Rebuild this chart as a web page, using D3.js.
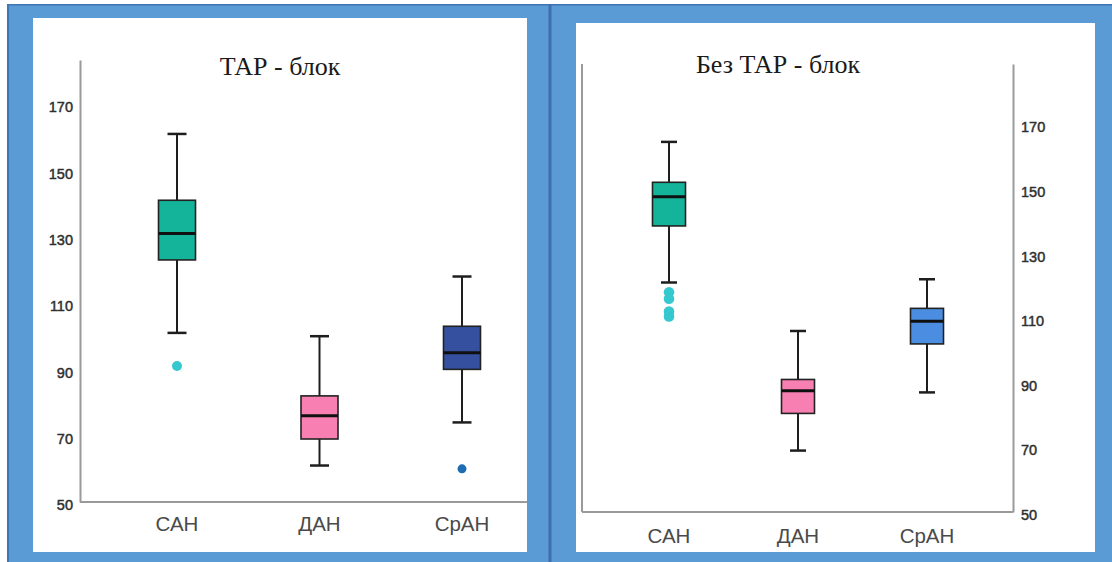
<!DOCTYPE html>
<html>
<head>
<meta charset="utf-8">
<script src="https://cdn.jsdelivr.net/npm/d3@7"></script>
<style>
  html, body { margin: 0; padding: 0; background: #ffffff; }
  svg { display: block; }
</style>
</head>
<body>
<svg id="chart" width="1112" height="562"></svg>
<script>
// Categories shared by both panels
const categories = ["САН", "ДАН", "СрАН"];
const tickValues = [50, 70, 90, 110, 130, 150, 170];

// Panel 1: "ТАР - блок" — box plot statistics per category
const tarTitle = "ТАР - блок";
const tarLow    = [101, 61, 74];
const tarQ1     = [123, 69, 90];
const tarMedian = [131, 76, 95];
const tarQ3     = [141, 82, 103];
const tarHigh   = [161, 100, 118];
const tarOutliers = [[91], [], [60]];
const tarFill    = ["#14b49b", "#f77fb1", "#34509f"];
const tarDotFill = ["#36c8cf", "#f77fb1", "#1f6cb2"];

// Panel 2: "Без ТАР - блок"
const noTarTitle = "Без ТАР - блок";
const noTarLow    = [121, 69, 87];
const noTarQ1     = [138.5, 80.5, 102];
const noTarMedian = [147.5, 87.5, 109];
const noTarQ3     = [152, 91, 113];
const noTarHigh   = [164.5, 106, 122];
const noTarOutliers = [[118, 116, 112, 110.5], [], []];
const noTarFill    = ["#14b49b", "#f77fb1", "#4b8de0"];
const noTarDotFill = ["#36c8cf", "#f77fb1", "#4b8de0"];

const svg = d3.select("#chart");

// Blue frame and white panels
svg.append("rect").attr("x", 7).attr("y", 4).attr("width", 1105).attr("height", 558).attr("fill", "#5b9bd5");
svg.append("rect").attr("x", 7).attr("y", 4).attr("width", 1105).attr("height", 1.5).attr("fill", "#3f75b5");
svg.append("rect").attr("x", 7).attr("y", 4).attr("width", 2).attr("height", 558).attr("fill", "#3f75b5");
svg.append("rect").attr("x", 33).attr("y", 18).attr("width", 494).attr("height", 534).attr("fill", "#ffffff");
svg.append("rect").attr("x", 576).attr("y", 23).attr("width", 519).attr("height", 529).attr("fill", "#ffffff");
svg.append("rect").attr("x", 548.5).attr("y", 4).attr("width", 3).attr("height", 558).attr("fill", "#3e6fac");

function drawPanel(cfg) {
  const g = svg.append("g");
  const y = d3.scaleLinear().domain(cfg.yDomain).range([cfg.bottom, cfg.top]);
  const x = d3.scalePoint().domain(categories).range(cfg.xRange);

  // Title
  g.append("text")
    .attr("x", cfg.titleX).attr("y", cfg.titleY)
    .attr("text-anchor", "middle")
    .attr("font-family", "'Liberation Serif', 'Times New Roman', serif")
    .attr("font-size", 26)
    .attr("fill", "#1a1a1a")
    .text(cfg.title);

  // Value axis
  const axis = (cfg.axisSide === "left" ? d3.axisLeft(y) : d3.axisRight(y))
    .tickValues(tickValues).tickSize(0).tickPadding(cfg.tickPad).tickFormat(d3.format("d"));
  const ag = g.append("g").attr("transform", `translate(${cfg.axisX},0)`).call(axis);
  ag.select(".domain").attr("stroke", "#9a9a9a").attr("stroke-width", 2);
  ag.selectAll("text")
    .attr("transform", "translate(0,3)")
    .attr("font-family", "'Liberation Sans', Arial, sans-serif")
    .attr("font-size", 14.5)
    .attr("fill", "#2e2e2e")
    .attr("stroke", "#2e2e2e")
    .attr("stroke-width", 0.45);

  // Frame lines of the plot area
  g.append("line")
    .attr("x1", cfg.baseX0).attr("x2", cfg.baseX1)
    .attr("y1", y(cfg.yDomain[0])).attr("y2", y(cfg.yDomain[0]))
    .attr("stroke", "#9a9a9a").attr("stroke-width", 2);
  if (cfg.sideLineX !== undefined) {
    g.append("line")
      .attr("x1", cfg.sideLineX).attr("x2", cfg.sideLineX)
      .attr("y1", y(cfg.yDomain[1])).attr("y2", y(cfg.yDomain[0]))
      .attr("stroke", "#9a9a9a").attr("stroke-width", 2);
  }

  // Category labels
  g.selectAll(".cat").data(categories).join("text")
    .attr("x", d => x(d)).attr("y", cfg.catY)
    .attr("text-anchor", "middle")
    .attr("font-family", "'Liberation Sans', Arial, sans-serif")
    .attr("font-size", 20.5)
    .attr("fill", "#4a4a4a")
    .text(d => d);

  const bw = cfg.boxWidth, cw = cfg.capWidth;
  categories.forEach((c, i) => {
    const cx = x(c);
    const bg = g.append("g");
    // whiskers
    bg.append("line").attr("x1", cx).attr("x2", cx)
      .attr("y1", y(cfg.high[i])).attr("y2", y(cfg.q3[i]))
      .attr("stroke", "#1e1e1e").attr("stroke-width", 2);
    bg.append("line").attr("x1", cx).attr("x2", cx)
      .attr("y1", y(cfg.q1[i])).attr("y2", y(cfg.low[i]))
      .attr("stroke", "#1e1e1e").attr("stroke-width", 2);
    // caps
    [cfg.high[i], cfg.low[i]].forEach(v => {
      bg.append("line").attr("x1", cx - cw / 2).attr("x2", cx + cw / 2)
        .attr("y1", y(v)).attr("y2", y(v))
        .attr("stroke", "#1e1e1e").attr("stroke-width", 2.5);
    });
    // box
    bg.append("rect")
      .attr("x", cx - bw / 2).attr("width", bw)
      .attr("y", y(cfg.q3[i])).attr("height", y(cfg.q1[i]) - y(cfg.q3[i]))
      .attr("fill", cfg.fill[i]).attr("stroke", "#222").attr("stroke-width", 1.6);
    // median
    bg.append("line").attr("x1", cx - bw / 2).attr("x2", cx + bw / 2)
      .attr("y1", y(cfg.median[i])).attr("y2", y(cfg.median[i]))
      .attr("stroke", "#101010").attr("stroke-width", 3);
    // outliers
    bg.selectAll("circle").data(cfg.outliers[i]).join("circle")
      .attr("cx", cx).attr("cy", d => y(d))
      .attr("r", cfg.dotR[i])
      .attr("fill", cfg.dotFill[i]);
  });
}

drawPanel({
  title: tarTitle, titleX: 280, titleY: 75,
  yDomain: [50, 183.3], top: 60, bottom: 502,
  xRange: [177, 462],
  axisSide: "left", axisX: 80, tickPad: 7,
  baseX0: 80, baseX1: 527,
  catY: 531,
  boxWidth: 37, capWidth: 19,
  low: tarLow, q1: tarQ1, median: tarMedian, q3: tarQ3, high: tarHigh,
  outliers: tarOutliers, fill: tarFill, dotFill: tarDotFill, dotR: [5, 4, 4.5]
});

drawPanel({
  title: noTarTitle, titleX: 778, titleY: 73,
  yDomain: [50, 188.6], top: 64, bottom: 512,
  xRange: [669, 927],
  axisSide: "right", axisX: 1013, tickPad: 8,
  baseX0: 582, baseX1: 1013, sideLineX: 582,
  catY: 543,
  boxWidth: 33, capWidth: 16,
  low: noTarLow, q1: noTarQ1, median: noTarMedian, q3: noTarQ3, high: noTarHigh,
  outliers: noTarOutliers, fill: noTarFill, dotFill: noTarDotFill, dotR: [5.3, 4, 4]
});
</script>
</body>
</html>
